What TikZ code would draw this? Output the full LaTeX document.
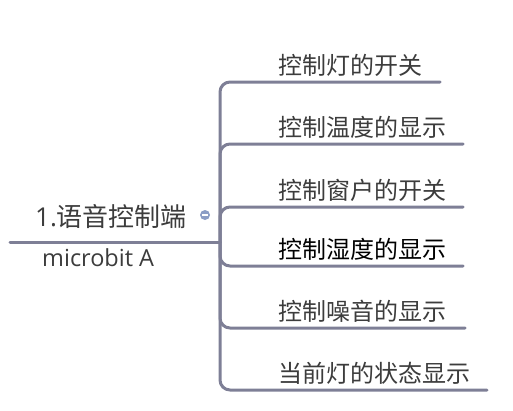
\documentclass[tikz,border=0pt]{standalone}
\usepackage{fontspec}
\setmainfont{Open Sans}
\newfontfamily\cjk{Noto Sans CJK SC}
\usetikzlibrary{positioning}
\definecolor{branchgray}{RGB}{126,127,150}
\definecolor{textgray}{RGB}{60,60,60}
\definecolor{knobblue}{RGB}{140,158,198}
\tikzset{
  topic/.style={inner sep=0pt, anchor=base west, text=textgray, font=\cjk\fontsize{24}{28}\selectfont},
  mainlabel/.style={inner sep=0pt, anchor=base west, text=textgray, font=\fontsize{26}{30}\selectfont},
  sublabel/.style={inner sep=0pt, anchor=base west, text=textgray, font=\fontsize{23.5}{28}\selectfont},
  branch/.style={draw=branchgray, line width=3pt, rounded corners=10pt, line cap=round},
}
\begin{document}
\begin{tikzpicture}[x=1pt, y=-1pt]
  \useasboundingbox (0,0) rectangle (513,410);
  % main topic
  \node [style=mainlabel] (main) at (35, 226) {1.{\cjk 语音控制端}};
  \node [style=sublabel] (sub) at (42, 266) {microbit A};
  \coordinate (start) at (10, 242);
  \coordinate (hub) at (220, 242);
  % subtopics
  \node [style=topic] (t1) at (278, 74) {控制灯的开关};
  \node [style=topic] (t2) at (278, 136) {控制温度的显示};
  \node [style=topic] (t3) at (278, 199) {控制窗户的开关};
  \node [style=topic, text=black] (t4) at (278, 258) {控制湿度的显示};
  \node [style=topic] (t5) at (278, 320) {控制噪音的显示};
  \node [style=topic] (t6) at (278, 382) {当前灯的状态显示};
  \coordinate (e1) at (440, 82);
  \coordinate (e2) at (463, 144);
  \coordinate (e3) at (463, 207);
  \coordinate (e4) at (463, 266);
  \coordinate (e5) at (465, 328);
  \coordinate (e6) at (487, 390);
  % lines
  \draw [style=branch] (start) -- (hub);
  \draw [style=branch] (hub) |- (e1);
  \draw [style=branch] (hub) |- (e2);
  \draw [style=branch] (hub) |- (e3);
  \draw [style=branch] (hub) |- (e4);
  \draw [style=branch] (hub) |- (e5);
  \draw [style=branch] (hub) |- (e6);
  % collapse knob
  \node [circle, fill=knobblue, minimum size=10pt, inner sep=0pt] (knob) at (205, 215) {};
  \draw [white, line width=1.5pt] ([xshift=-2.8pt]knob.center) -- ([xshift=2.8pt]knob.center);
\end{tikzpicture}
\end{document}
